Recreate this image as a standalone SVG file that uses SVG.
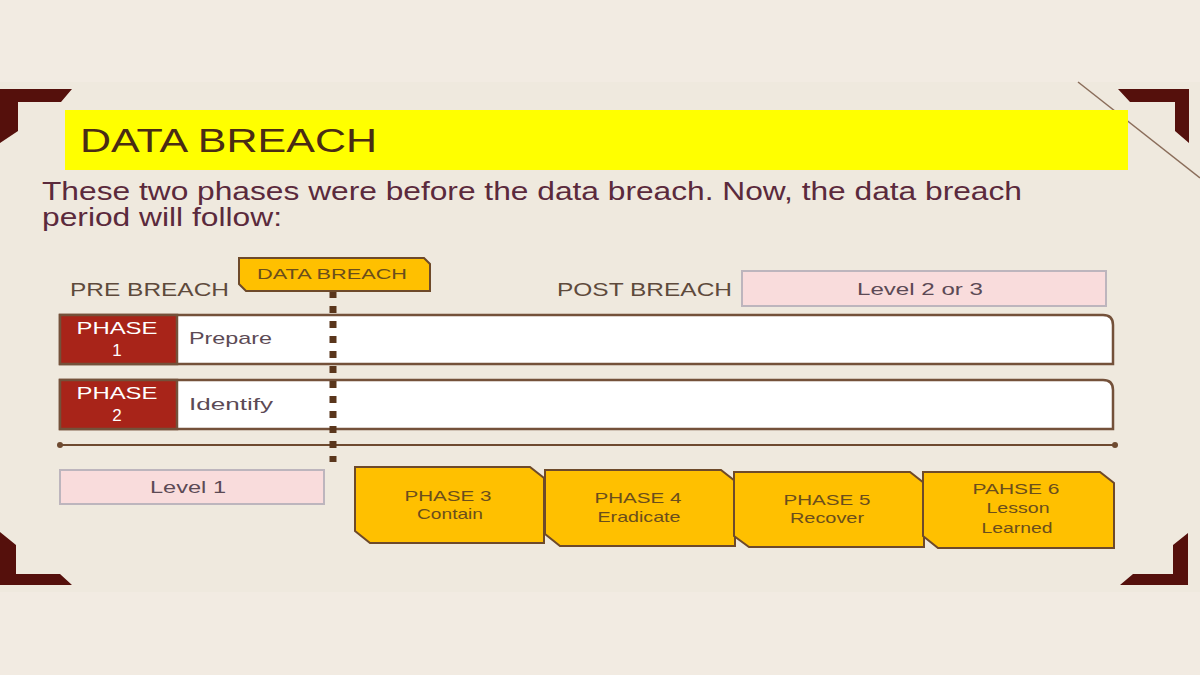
<svg xmlns="http://www.w3.org/2000/svg" width="1200" height="675" viewBox="0 0 1200 675">
<style>
.t{font-family:"Liberation Sans",Arial,sans-serif}
.row{fill:#ffffff;stroke:#74513a;stroke-width:2.5}
.red{fill:#a82419;stroke:#74513a;stroke-width:2.5}
.wt{fill:#ffffff;font-size:17px;text-anchor:middle}
.lbl{fill:#5c4a55;font-size:17px}
.gr{fill:#5e4a3c;font-size:18px}
.lvl{fill:#f9dcdc;stroke:#bdb5bd;stroke-width:2}
.ph{fill:#ffc000;stroke:#6e4a2a;stroke-width:2}
.pt{fill:#6b4e1c;font-size:15px;text-anchor:middle}
.br{fill:#55100c}
</style>
<rect width="1200" height="675" fill="#f2ebe2"/>
<rect x="0" y="82" width="1200" height="510" fill="#efe9de"/>
<line x1="1078" y1="82" x2="1200" y2="178" stroke="#8a6d5a" stroke-width="1.5"/>
<g id="corners">
<polygon class="br" points="0,89 72,89 61,102 18,102 18,131 0,143"/>
<polygon class="br" points="1118,89 1189,89 1189,143 1175,131 1175,102 1130,102"/>
<polygon class="br" points="0,532 16,545 16,574 60,574 72,585 0,585"/>
<polygon class="br" points="1188,533 1188,585 1120,585 1133,574 1173,574 1173,545"/>
</g>
<g id="title">
<rect x="65" y="110" width="1063" height="60" fill="#ffff00"/>
<text class="t" x="80" y="152" font-size="33" fill="#4a2c14" textLength="297" lengthAdjust="spacingAndGlyphs">DATA BREACH</text>
</g>
<g id="subtitle" class="t" fill="#5b2a3c" font-size="25">
<text x="42" y="200" textLength="980" lengthAdjust="spacingAndGlyphs">These two phases were before the data breach. Now, the data breach</text>
<text x="42" y="226" textLength="240" lengthAdjust="spacingAndGlyphs">period will follow:</text>
</g>
<g id="pre-breach"><text class="t gr" x="70" y="296" textLength="159" lengthAdjust="spacingAndGlyphs">PRE BREACH</text></g>
<g id="post-breach"><text class="t gr" x="557" y="296" textLength="175" lengthAdjust="spacingAndGlyphs">POST  BREACH</text></g>
<g id="level23">
<rect class="lvl" x="742" y="271" width="364" height="35"/>
<text class="t lbl" x="857" y="295" textLength="126" lengthAdjust="spacingAndGlyphs">Level 2 or 3</text>
</g>
<g id="phase1">
<path class="row" d="M60,315 H1103 Q1113,315 1113,325 V364 H60 Z"/>
<rect class="red" x="60" y="315" width="117" height="49"/>
<text class="t wt" x="117" y="334" textLength="81" lengthAdjust="spacingAndGlyphs">PHASE</text>
<text class="t wt" x="117" y="356">1</text>
<text class="t lbl" x="189" y="344" textLength="83" lengthAdjust="spacingAndGlyphs">Prepare</text>
</g>
<g id="phase2">
<path class="row" d="M60,380 H1103 Q1113,380 1113,390 V429 H60 Z"/>
<rect class="red" x="60" y="380" width="117" height="49"/>
<text class="t wt" x="117" y="399" textLength="81" lengthAdjust="spacingAndGlyphs">PHASE</text>
<text class="t wt" x="117" y="421">2</text>
<text class="t lbl" x="189" y="410" textLength="84" lengthAdjust="spacingAndGlyphs">Identify</text>
</g>
<g id="connectors">
<line x1="60" y1="445" x2="1115" y2="445" stroke="#6e4a30" stroke-width="2"/>
<circle cx="60" cy="445" r="3" fill="#6e4a30"/>
<circle cx="1115" cy="445" r="3" fill="#6e4a30"/>
<line x1="333" y1="291" x2="333" y2="462" stroke="#5a361c" stroke-width="7" stroke-dasharray="7 8"/>
</g>
<g id="data-breach-tag">
<path d="M239,258 H424 L430,264 V291 H246 L239,284 Z" fill="#ffc000" stroke="#6e4a2a" stroke-width="2"/>
<text class="t" x="257" y="279" font-size="15" fill="#6b4e1c" textLength="150" lengthAdjust="spacingAndGlyphs">DATA BREACH</text>
</g>
<g id="level1">
<rect class="lvl" x="60" y="470" width="264" height="34"/>
<text class="t lbl" x="150" y="493" textLength="76" lengthAdjust="spacingAndGlyphs">Level 1</text>
</g>
<g id="phase3">
<path class="ph" d="M355,467 H530 L544,478 V543 H370 L355,531 Z"/>
<text class="t pt" x="448" y="501" textLength="87" lengthAdjust="spacingAndGlyphs">PHASE 3</text>
<text class="t pt" x="450" y="519" textLength="66" lengthAdjust="spacingAndGlyphs">Contain</text>
</g>
<g id="phase4">
<path class="ph" d="M545,470 H721 L735,481 V546 H560 L545,534 Z"/>
<text class="t pt" x="638" y="503" textLength="87" lengthAdjust="spacingAndGlyphs">PHASE 4</text>
<text class="t pt" x="639" y="522" textLength="83" lengthAdjust="spacingAndGlyphs">Eradicate</text>
</g>
<g id="phase5">
<path class="ph" d="M734,472 H910 L924,483 V547 H749 L734,536 Z"/>
<text class="t pt" x="827" y="505" textLength="87" lengthAdjust="spacingAndGlyphs">PHASE 5</text>
<text class="t pt" x="827" y="523" textLength="74" lengthAdjust="spacingAndGlyphs">Recover</text>
</g>
<g id="phase6">
<path class="ph" d="M923,472 H1100 L1114,483 V548 H938 L923,536 Z"/>
<text class="t pt" x="1016" y="494" textLength="87" lengthAdjust="spacingAndGlyphs">PAHSE 6</text>
<text class="t pt" x="1018" y="513" textLength="63" lengthAdjust="spacingAndGlyphs">Lesson</text>
<text class="t pt" x="1017" y="533" textLength="71" lengthAdjust="spacingAndGlyphs">Learned</text>
</g>
</svg>
